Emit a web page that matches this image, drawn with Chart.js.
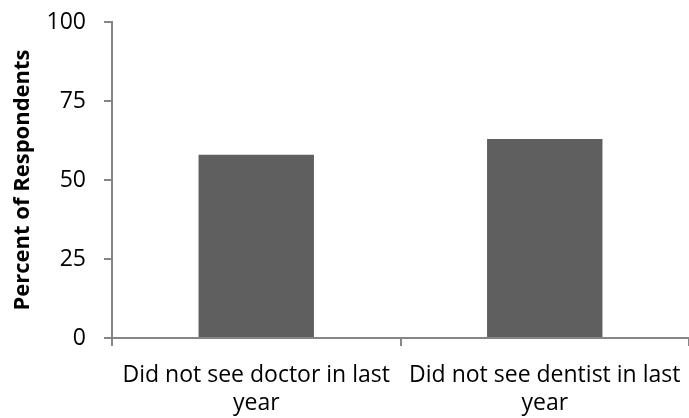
<!DOCTYPE html>
<html>
<head>
<meta charset="utf-8">
<script src="https://cdn.jsdelivr.net/npm/chart.js@4/dist/chart.umd.min.js"></script>
<style>
  html, body { margin: 0; padding: 0; background: #ffffff; }
  #wrap { width: 689px; height: 418px; position: relative; }
</style>
</head>
<body>
<div id="wrap"><canvas id="chart"></canvas></div>
<script>
// Share of respondents who skipped care in the last year
const categories = [
  ["Did not see doctor in last", "year"],
  ["Did not see dentist in last", "year"]
];
const percentValues = [58, 63];
const yTickValues = [0, 25, 50, 75, 100];
const yAxisTitle = "Percent of Respondents";

const axisGrey = "#868686";
const fontFamily = "'Open Sans', 'Liberation Sans', sans-serif";

new Chart(document.getElementById("chart"), {
  type: "bar",
  data: {
    labels: categories,
    datasets: [{
      data: percentValues,
      backgroundColor: "#5f5f5f",
      borderWidth: 0,
      barPercentage: 0.4,
      categoryPercentage: 1.0
    }]
  },
  options: {
    responsive: true,
    maintainAspectRatio: false,
    animation: false,
    layout: { padding: { top: 22, right: 0, bottom: 0, left: 0 } },
    plugins: {
      legend: { display: false },
      tooltip: { enabled: false }
    },
    scales: {
      x: {
        offset: true,
        grid: {
          offset: true,
          drawOnChartArea: false,
          drawTicks: true,
          tickLength: 8,
          lineWidth: 2,
          color: axisGrey
        },
        border: { display: true, color: axisGrey, width: 2 },
        ticks: {
          maxRotation: 0,
          minRotation: 0,
          autoSkip: false,
          padding: 16,
          color: "#000000",
          font: { family: fontFamily, size: 23, lineHeight: 1.2 }
        },
        afterFit: (scale) => {
          scale.height = 80;
          scale.paddingLeft = 0;
          scale.paddingRight = 0;
        }
      },
      y: {
        min: 0,
        max: 100,
        afterBuildTicks: (scale) => {
          scale.ticks = yTickValues.map(v => ({ value: v }));
        },
        grid: {
          drawOnChartArea: false,
          drawTicks: true,
          tickLength: 8,
          lineWidth: 2,
          color: axisGrey
        },
        border: { display: true, color: axisGrey, width: 2 },
        ticks: {
          padding: 18,
          color: "#000000",
          font: { family: fontFamily, size: 23 }
        },
        title: {
          display: true,
          text: yAxisTitle,
          color: "#000000",
          padding: { top: 10, bottom: 0 },
          font: { family: fontFamily, size: 22, weight: "bold", lineHeight: 1.2 }
        },
        afterFit: (scale) => {
          scale.width = 112;
          scale.paddingTop = 0;
          scale.paddingBottom = 0;
        }
      }
    }
  }
});
</script>
</body>
</html>
